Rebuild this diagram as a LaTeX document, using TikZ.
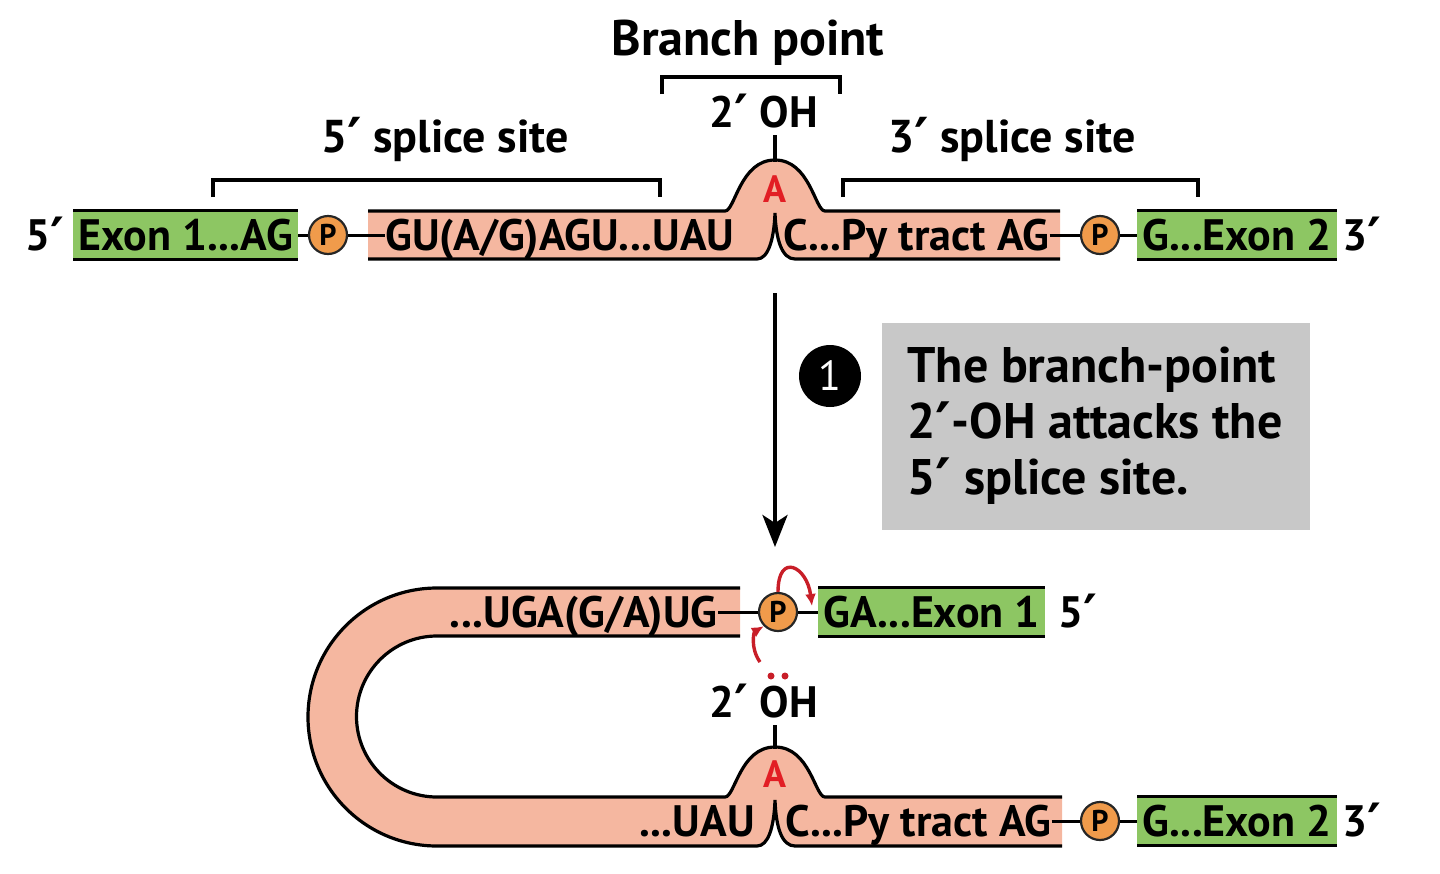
\documentclass[tikz,border=0pt]{standalone}
\usepackage{fontspec}
\setmainfont{PT Sans}
\newfontfamily\primefont{DejaVu Sans}
\usetikzlibrary{arrows.meta}

\definecolor{exongreen}{RGB}{141,198,99}
\definecolor{intron}{RGB}{245,183,160}
\definecolor{phos}{RGB}{240,155,75}
\definecolor{branchred}{RGB}{226,30,36}
\definecolor{attackred}{RGB}{200,30,40}
\definecolor{notegray}{RGB}{200,200,200}

\newcommand{\seqfont}{\bfseries\fontsize{22}{28}\selectfont}
\newcommand{\pr}{\raisebox{-0.13em}{\scalebox{1.2}{\primefont\char"2032}}}

\tikzset{
  seq/.style={font=\seqfont, inner sep=0pt, text height=15pt, text depth=0pt},
  label/.style={seq, font=\bfseries\fontsize{23}{28}\selectfont, anchor=base},
  exon/.style={seq, fill=exongreen, inner xsep=2.5pt, minimum height=24pt},
  phosph/.style={circle, draw=black!85, line width=1.1pt, fill=phos, minimum size=19pt,
    inner sep=0pt, font=\bfseries\fontsize{15}{15}\selectfont},
  bond/.style={line width=1.5pt},
  rim/.style={line width=1.6pt},
  attack/.style={attackred, line width=1.7pt, -{Latex[length=6pt,width=5.5pt]}},
  branchA/.style={font=\bfseries\fontsize{19}{19}\selectfont, text=branchred, inner sep=0pt, anchor=base},
}

\begin{document}
\begin{tikzpicture}[x=0.5pt,y=-0.5pt]
\useasboundingbox (0,0) rectangle (1440,873);

% pre-mRNA, intron with the branch point bulge
\fill[intron] (368,211) -- (725,211) .. controls (735,211) and (740,160) .. (775,160)
  .. controls (810,160) and (815,211) .. (825,211) -- (1060,211) -- (1060,259) -- (795,259)
  .. controls (782,259) and (776,240) .. (775,213) .. controls (774,240) and (768,259) .. (757,259)
  -- (368,259) -- cycle;
\draw[rim] (368,211) -- (725,211) .. controls (735,211) and (740,160) .. (775,160)
  .. controls (810,160) and (815,211) .. (825,211) -- (1060,211);
\draw[rim] (368,259) -- (757,259) .. controls (768,259) and (774,240) .. (775,213)
  .. controls (776,240) and (782,259) .. (795,259) -- (1060,259);

\node[seq, anchor=west] (five1) at (25,235) {5\pr};
\node[exon, anchor=west] (ex1) at (73,235) {Exon 1...AG};
\draw[rim] (ex1.north west) -- (ex1.north east) (ex1.south west) -- (ex1.south east);
\node[phosph] (p1) at (328,235) {P};
\node[seq, anchor=west] (gu) at (385,235) {GU(A/G)AGU...UAU};
\node[seq, anchor=west] (py1) at (783,235) {C...Py tract AG};
\node[phosph] (p2) at (1100,235) {P};
\node[exon, anchor=west] (ex2) at (1137,235) {G...Exon 2};
\draw[rim] (ex2.north west) -- (ex2.north east) (ex2.south west) -- (ex2.south east);
\node[seq, anchor=west] (three1) at (1342,235) {3\pr};
\draw[bond] (ex1) -- (p1) -- (gu);
\draw[bond] (py1) -- (p2) -- (ex2);

\node[branchA] (a1) at (775,202) {A};
\coordinate (bp1) at (775,162);
\node[seq, anchor=base] (oh1) at (764,127) {2\pr\ OH};
\draw[rim] ([yshift=-4pt]oh1.south -| bp1) -- (bp1);

% brackets
\draw[rim] (213,197) |- (660,180) -- (660,197);
\node[label] (ss5) at (445,152) {5\pr\ splice site};
\draw[rim] (662,94) |- (840,77) -- (840,94);
\node[label, font=\bfseries\fontsize{25}{28}\selectfont] (bpt) at (748,55) {Branch point};
\draw[rim] (843,197) |- (1198,180) -- (1198,197);
\node[label] (ss3) at (1012,152) {3\pr\ splice site};

% step 1
\coordinate (s1) at (775,293);
\coordinate (s2) at (775,547);
\draw[line width=2pt, -{Stealth[length=16pt,width=12.5pt,inset=4pt]}] (s1) -- (s2);
\node[circle, fill=black, text=white, minimum size=31pt, inner sep=0pt,
  font=\fontsize{21}{21}\selectfont] (n1) at (830,376) {1};
\node[fill=notegray, minimum width=214pt, minimum height=103.5pt, anchor=north west,
  inner sep=0pt] (note) at (882,323) {};
\node[font=\bfseries\fontsize{25}{28}\selectfont, align=left, anchor=north west, inner sep=0pt]
  (notetxt) at (907,347) {The branch-point\\2\pr-OH attacks the\\5\pr\ splice site.};

% lariat forming
\fill[intron] (740,588) -- (437,588) arc[start angle=270, end angle=90, radius=129]
  -- (757,846) .. controls (768,846) and (774,828) .. (775,800)
  .. controls (776,828) and (782,846) .. (795,846) -- (1062,846) -- (1062,797) -- (825,797)
  .. controls (815,797) and (810,747) .. (775,747) .. controls (740,747) and (735,797) .. (725,797)
  -- (437,797) arc[start angle=90, end angle=270, radius=80.5] -- (740,636) -- cycle;
\draw[rim] (740,588) -- (437,588) arc[start angle=270, end angle=90, radius=129]
  -- (757,846) .. controls (768,846) and (774,828) .. (775,800)
  .. controls (776,828) and (782,846) .. (795,846) -- (1062,846);
\draw[rim] (1062,797) -- (825,797)
  .. controls (815,797) and (810,747) .. (775,747) .. controls (740,747) and (735,797) .. (725,797)
  -- (437,797) arc[start angle=90, end angle=270, radius=80.5] -- (740,636);

\node[seq, anchor=east] (uga) at (718,612) {...UGA(G/A)UG};
\node[phosph] (p3) at (778,612) {P};
\node[exon, anchor=west] (ex1b) at (818,612) {GA...Exon 1};
\draw[rim] (ex1b.north west) -- (ex1b.north east) (ex1b.south west) -- (ex1b.south east);
\node[seq, anchor=west] (five2) at (1058,612) {5\pr};
\draw[bond] (uga) -- (p3) -- (ex1b);

\node[seq, anchor=east] (uau) at (755,821) {...UAU};
\node[seq, anchor=west] (py2) at (785,821) {C...Py tract AG};
\node[phosph] (p4) at (1100,821) {P};
\node[exon, anchor=west] (ex2b) at (1137,821) {G...Exon 2};
\draw[rim] (ex2b.north west) -- (ex2b.north east) (ex2b.south west) -- (ex2b.south east);
\node[seq, anchor=west] (three2) at (1342,821) {3\pr};
\draw[bond] (py2) -- (p4) -- (ex2b);

\node[branchA] (a2) at (775,787) {A};
\coordinate (bp2) at (775,749);
\node[seq, anchor=base] (oh2) at (764,717) {2\pr\ OH};
\draw[rim] ([yshift=-4pt]oh2.south -| bp2) -- (bp2);
\fill[attackred] (771,676) circle[radius=3.5] (785,676) circle[radius=3.5];

% electron pushing
\coordinate (lp) at (760,662);
\draw[attack] (lp) .. controls (750,648) and (754,632) .. (p3.south west);
\draw[attack] (p3.north) .. controls +(0,-40) and +(-5,-40) .. ([shift={(-3pt,3pt)}]ex1b.west);
\end{tikzpicture}
\end{document}
